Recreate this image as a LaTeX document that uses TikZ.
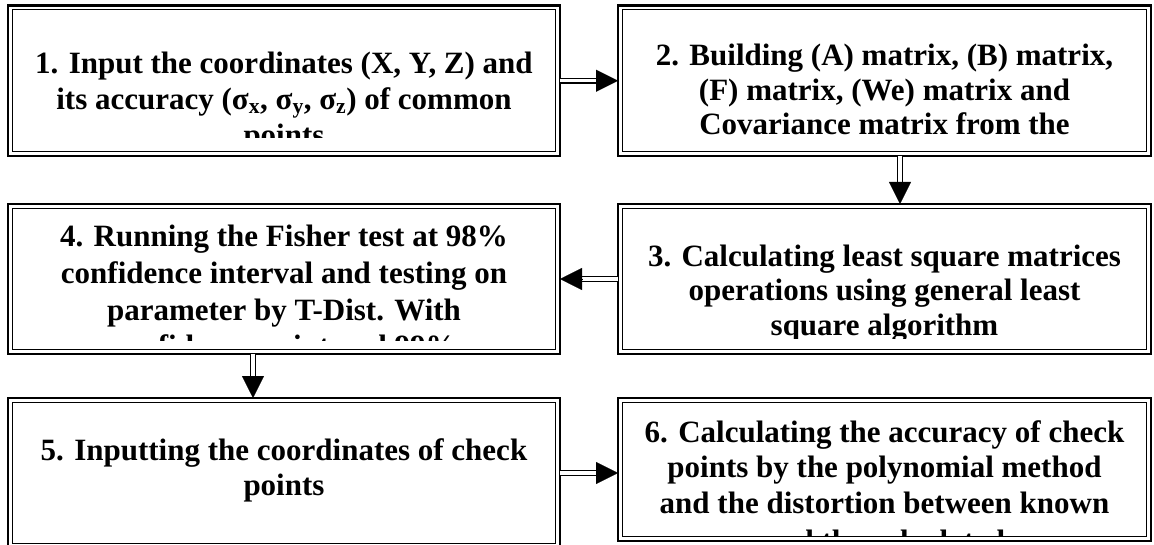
\documentclass[tikz,border=0pt]{standalone}
\usepackage{fontspec}
\setmainfont{Liberation Serif}
\usetikzlibrary{arrows.meta,calc}
\tikzset{
  box/.style={draw, line width=2.2pt, inner sep=0pt, outer sep=0pt,
    path picture={\draw[line width=1.1pt]
      ([shift={(4.2pt,-4.2pt)}]path picture bounding box.north west) rectangle
      ([shift={(-4.2pt,4.2pt)}]path picture bounding box.south east);}},
  txt/.style={anchor=base, inner sep=0pt, outer sep=0pt,
    font=\fontsize{31}{36}\selectfont\bfseries},
  dshaft/.style={draw, line width=1.4pt, double, double distance=3.2pt},
  dhead/.style={line width=0.1pt, -{Triangle[length=22pt,width=22pt]}},
}
\newcommand{\dblarrow}[2]{%
  \draw[dshaft] #1 -- ($#2!18pt!#1$);
  \draw[dhead] ($#2!22pt!#1$) -- #2;}
\begin{document}
\begin{tikzpicture}[x=1pt,y=-1pt]
\useasboundingbox (0,0) rectangle (1154,545);
\clip (0,0) rectangle (1154,545);
\fill[white] (0,0) rectangle (1154,545);

% boxes
\node[box, minimum width=552pt, minimum height=150.5pt] (b1) at (284,80.75) {};
\node[box, minimum width=533pt, minimum height=150.5pt] (b2) at (884.5,80.75) {};
\node[box, minimum width=533pt, minimum height=150pt] (b3) at (884.5,279) {};
\node[box, minimum width=552pt, minimum height=150pt] (b4) at (284,279) {};
\node[box, minimum width=552pt, minimum height=150pt] (b5) at (284,473) {};
\node[box, minimum width=533pt, minimum height=143pt] (b6) at (884.5,469.5) {};

% texts (clipped to the text area of each box)
\begin{scope}
\clip (13,10) rectangle (555,138);
\node[txt] (t1a) at (284,74) {1. Input the coordinates (X, Y, Z) and};
\node[txt] (t1b) at (284,110) {its accuracy (σ\textsubscript{x}, σ\textsubscript{y}, σ\textsubscript{z}) of common};
\node[txt] (t1c) at (284,146) {points};
\end{scope}

\begin{scope}
\clip (623,10) rectangle (1146,145);
\node[txt] (t2a) at (884.5,66) {2. Building (A) matrix, (B) matrix,};
\node[txt] (t2b) at (884.5,100.5) {(F) matrix, (We) matrix and};
\node[txt] (t2c) at (884.5,135) {Covariance matrix from the};
\end{scope}

\begin{scope}
\clip (623,209) rectangle (1146,339);
\node[txt] (t3a) at (884.5,267) {3. Calculating least square matrices};
\node[txt] (t3b) at (884.5,301) {operations using general least};
\node[txt] (t3c) at (884.5,335) {square algorithm};
\end{scope}

\begin{scope}
\clip (13,209) rectangle (555,341);
\node[txt] (t4a) at (284,247) {4. Running the Fisher test at 98\%};
\node[txt] (t4b) at (284,283.5) {confidence interval and testing on};
\node[txt] (t4c) at (284,320) {parameter by T-Dist. With};
\node[txt] (t4d) at (284,356.5) {confidence point and 99\%};
\end{scope}

\begin{scope}
\clip (13,403) rectangle (555,545);
\node[txt] (t5a) at (284,460) {5. Inputting the coordinates of check};
\node[txt] (t5b) at (284,495) {points};
\end{scope}

\begin{scope}
\clip (623,403) rectangle (1146,536);
\node[txt] (t6a) at (884.5,442) {6. Calculating the accuracy of check};
\node[txt] (t6b) at (884.5,477.5) {points by the polynomial method};
\node[txt] (t6c) at (884.5,513) {and the distortion between known};
\node[txt] (t6d) at (884.5,551) {ones and the calculated ones};
\end{scope}

% connectors
\coordinate (x23) at (900,0);
\coordinate (x45) at (253,0);
\dblarrow{(b1.east)}{(b1.east -| b2.west)}
\dblarrow{(b2.south -| x23)}{(b3.north -| x23)}
\dblarrow{(b3.west)}{(b3.west -| b4.east)}
\dblarrow{(b4.south -| x45)}{(b5.north -| x45)}
\dblarrow{(b5.east)}{(b5.east -| b6.west)}
\end{tikzpicture}
\end{document}
